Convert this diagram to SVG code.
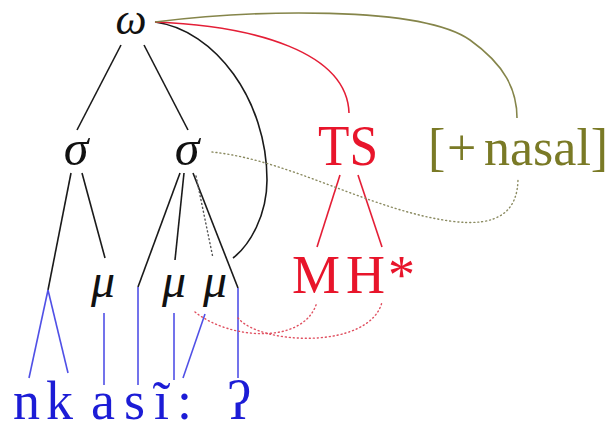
<svg xmlns="http://www.w3.org/2000/svg" width="608" height="429" viewBox="0 0 608 429">
<style>
.gk{font-family:"Liberation Serif","DejaVu Serif",serif;font-style:italic;fill:#111;text-anchor:middle}
.red{font-family:"Liberation Serif","DejaVu Serif",serif;fill:#e8152b}
.ol{font-family:"Liberation Serif","DejaVu Serif",serif;fill:#7a7a26}
.bl{font-family:"Liberation Serif","DejaVu Serif",serif;fill:#1c1cd6;font-size:54px}
.k{stroke:#1a1a1a;stroke-width:1.6;fill:none}
.b{stroke:#5050e6;stroke-width:1.6;fill:none}
.r{stroke:#e41e36;stroke-width:1.6;fill:none}
.o{stroke:#85854a;stroke-width:1.6;fill:none}
.dk{stroke:#555;stroke-width:1.4;fill:none;stroke-dasharray:1 3;stroke-linecap:round}
.dr{stroke:#e05060;stroke-width:1.4;fill:none;stroke-dasharray:1 3;stroke-linecap:round}
.do{stroke:#8a8a60;stroke-width:1.4;fill:none;stroke-dasharray:1 3;stroke-linecap:round}
</style>
<rect width="608" height="429" fill="#fff"/>
<g id="connectors">
<line class="k" x1="121" y1="45" x2="77" y2="130"/>
<line class="k" x1="144" y1="45" x2="188" y2="130"/>
<line class="k" x1="71" y1="173" x2="48" y2="290"/>
<line class="k" x1="82" y1="173" x2="105" y2="258"/>
<line class="k" x1="180" y1="173" x2="138" y2="287"/>
<line class="k" x1="184" y1="173" x2="175" y2="260"/>
<line class="k" x1="193" y1="173" x2="238" y2="288"/>
<line class="dk" x1="196" y1="176" x2="213" y2="258"/>
<path class="k" d="M155,22 C215,30 267,100 267,180 C267,215 250,245 233,258"/>
<path class="r" d="M155,22 C255,26 347,52 349,113"/>
<path class="o" d="M155,22 C250,10 420,5 470,40 C505,65 517,90 517,118"/>
<line class="r" x1="340" y1="175" x2="317" y2="247"/>
<line class="r" x1="358" y1="175" x2="382" y2="247"/>
<line class="b" x1="48" y1="290" x2="29" y2="378"/>
<line class="b" x1="48" y1="290" x2="68" y2="373"/>
<line class="b" x1="104" y1="313" x2="104" y2="385"/>
<line class="b" x1="138" y1="287" x2="138" y2="385"/>
<line class="b" x1="174" y1="313" x2="174" y2="380"/>
<line class="b" x1="205" y1="314" x2="183" y2="378"/>
<line class="b" x1="238" y1="288" x2="238" y2="378"/>
<path class="dr" d="M195,312 C230,340 305,345 317,302"/>
<path class="dr" d="M238,318 C260,345 370,350 382,302"/>
<path class="do" d="M212,152 C290,160 370,210 450,221 C500,228 518,210 518,178"/>
</g>
<g id="omega"><text class="gk" x="131" y="34" font-size="44">ω</text></g>
<g id="sigma1"><text class="gk" x="76" y="165" font-size="50">σ</text></g>
<g id="sigma2"><text class="gk" x="187" y="165" font-size="50">σ</text></g>
<g id="mu1"><text class="gk" x="103" y="297" font-size="48">μ</text></g>
<g id="mu2"><text class="gk" x="174" y="297" font-size="48">μ</text></g>
<g id="mu3"><text class="gk" x="215" y="297" font-size="48">μ</text></g>
<g id="TS"><text class="red" x="318" y="165" font-size="56" textLength="60" lengthAdjust="spacingAndGlyphs">TS</text></g>
<g id="nasal"><text class="ol" y="165" font-size="52"><tspan x="428">[</tspan><tspan x="447">+</tspan><tspan x="484">nasal]</tspan></text></g>
<g id="MH"><text class="red" y="293" font-size="54"><tspan x="292">M</tspan><tspan x="346">H</tspan><tspan x="388">*</tspan></text></g>
<g id="segments"><text class="bl" y="419"><tspan x="13">n</tspan><tspan x="46">k</tspan><tspan x="91">a</tspan><tspan x="124">s</tspan><tspan x="154">ĩ</tspan><tspan x="177">:</tspan><tspan x="227">ʔ</tspan></text></g>
</svg>
